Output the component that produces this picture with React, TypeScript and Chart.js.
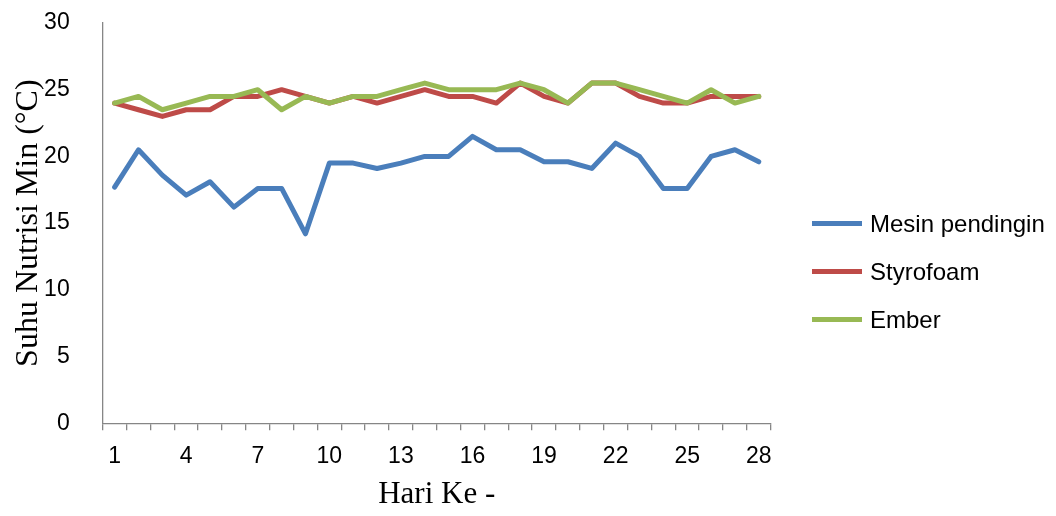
import React, { useEffect, useRef } from "react";
import { Chart, registerables } from "chart.js";

Chart.register(...registerables);

// Day numbers on the horizontal axis
const days = [
  "1", "2", "3", "4", "5", "6", "7", "8", "9", "10", "11", "12", "13", "14",
  "15", "16", "17", "18", "19", "20", "21", "22", "23", "24", "25", "26", "27", "28",
];

// Minimum nutrient temperature (°C) per day
const mesinPendingin = [
  17.7, 20.5, 18.6, 17.1, 18.1, 16.2, 17.6, 17.6, 14.2, 19.5, 19.5, 19.1, 19.5, 20.0,
  20.0, 21.5, 20.5, 20.5, 19.6, 19.6, 19.1, 21.0, 20.0, 17.6, 17.6, 20.0, 20.5, 19.6,
];
const styrofoam = [
  24.0, 23.5, 23.0, 23.5, 23.5, 24.5, 24.5, 25.0, 24.5, 24.0, 24.5, 24.0, 24.5, 25.0,
  24.5, 24.5, 24.0, 25.5, 24.5, 24.0, 25.5, 25.5, 24.5, 24.0, 24.0, 24.5, 24.5, 24.5,
];
const ember = [
  24.0, 24.5, 23.5, 24.0, 24.5, 24.5, 25.0, 23.5, 24.5, 24.0, 24.5, 24.5, 25.0, 25.5,
  25.0, 25.0, 25.0, 25.5, 25.0, 24.0, 25.5, 25.5, 25.0, 24.5, 24.0, 25.0, 24.0, 24.5,
];

const seriesNames = ["Mesin pendingin", "Styrofoam", "Ember"];
const seriesColors = ["#4A7EBB", "#BE4B48", "#98B954"];

const yTickStep = 5;
const yMin = 0;
const yMax = 30;
const xLabelEvery = 3;

const axisColor = "#868686";
const sansFont = "'Liberation Sans', Arial, sans-serif";
const serifFont = "'Liberation Serif', 'Times New Roman', serif";

// Line-sample legend drawn to the right of the plot
const sideLegend = {
  id: "sideLegend",
  afterDraw(chart: any) {
    const { ctx } = chart;
    const x0 = 812;
    const lineLen = 50;
    const textX = 870;
    const firstY = 223.5;
    const gap = 48;
    ctx.save();
    ctx.font = `24px ${sansFont}`;
    ctx.textAlign = "left";
    ctx.textBaseline = "alphabetic";
    chart.data.datasets.forEach((ds: any, i: number) => {
      const y = firstY + i * gap;
      ctx.strokeStyle = ds.borderColor;
      ctx.lineWidth = 5;
      ctx.lineCap = "butt";
      ctx.beginPath();
      ctx.moveTo(x0, y);
      ctx.lineTo(x0 + lineLen, y);
      ctx.stroke();
      ctx.fillStyle = "#000";
      ctx.fillText(ds.label, textX, y + 8.4);
    });
    ctx.restore();
  },
};

export default function App() {
  const canvasRef = useRef<HTMLCanvasElement | null>(null);

  useEffect(() => {
    if (!canvasRef.current) return;
    const values = [mesinPendingin, styrofoam, ember];
    const chart = new Chart(canvasRef.current, {
      type: "line",
      data: {
        labels: days,
        datasets: values.map((data, i) => ({
          label: seriesNames[i],
          data,
          borderColor: seriesColors[i],
          backgroundColor: seriesColors[i],
          borderWidth: 5,
          pointRadius: 0,
          pointHoverRadius: 0,
          tension: 0,
          borderJoinStyle: "round" as const,
          borderCapStyle: "round" as const,
          fill: false,
          order: values.length - 1 - i,
        })),
      },
      options: {
        responsive: false,
        animation: false,
        events: [],
        layout: { padding: { top: 23, right: 285.3, bottom: 0, left: 0 } },
        plugins: {
          legend: { display: false },
          tooltip: { enabled: false },
        },
        scales: {
          x: {
            type: "category",
            offset: true,
            grid: {
              display: true,
              offset: true,
              drawOnChartArea: false,
              drawTicks: true,
              tickLength: 7,
              color: axisColor,
              lineWidth: 1.3,
            },
            border: { display: true, color: axisColor, width: 1.3 },
            ticks: {
              autoSkip: false,
              maxRotation: 0,
              padding: 13,
              color: "#000",
              font: { family: sansFont, size: 23 },
              callback: (_v: any, index: number) =>
                index % xLabelEvery === 0 ? days[index] : "",
            },
            title: {
              display: true,
              text: "Hari Ke -",
              color: "#000",
              font: { family: serifFont, size: 31 },
              padding: { top: 0, bottom: 3 },
            },
            afterFit: (scale: any) => {
              scale.height = 92.7;
              scale.paddingLeft = 0;
              scale.paddingRight = 0;
            },
          },
          y: {
            min: yMin,
            max: yMax,
            grid: { display: false },
            border: { display: true, color: axisColor, width: 1.3 },
            ticks: {
              stepSize: yTickStep,
              padding: 25,
              color: "#000",
              font: { family: sansFont, size: 23 },
            },
            title: {
              display: true,
              text: "Suhu Nutrisi Min (\u00B0C)",
              color: "#000",
              font: { family: serifFont, size: 32 },
              padding: { top: 9, bottom: 0 },
            },
            afterFit: (scale: any) => {
              scale.width = 102.7;
              scale.paddingTop = 0;
              scale.paddingBottom = 0;
            },
          },
        },
      },
      plugins: [sideLegend],
    });
    return () => chart.destroy();
  }, []);

  return (
    <div
      style={{
        position: "fixed",
        left: 0,
        top: 0,
        width: 1056,
        height: 516,
        background: "#fff",
      }}
    >
      <canvas ref={canvasRef} width={1056} height={516} />
    </div>
  );
}
